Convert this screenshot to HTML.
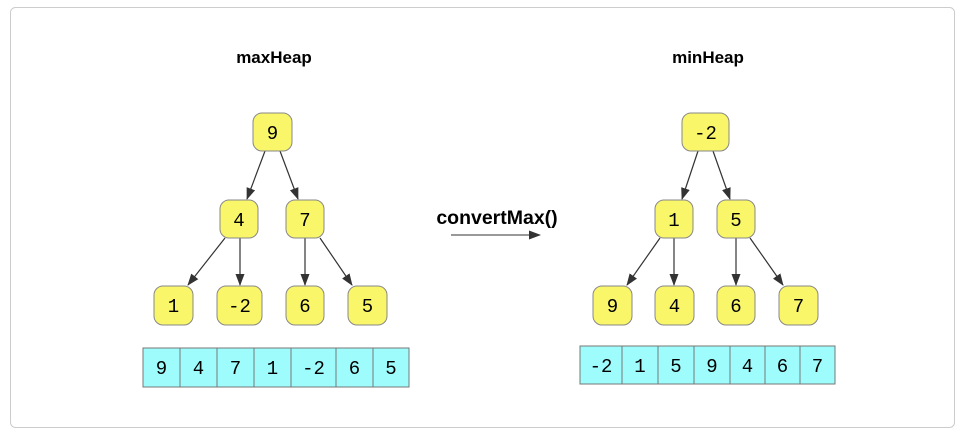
<!DOCTYPE html>
<html><head><style>body{margin:0;background:#fff}svg{display:block}</style></head><body>
<svg width="965" height="433" xmlns="http://www.w3.org/2000/svg">
<defs><marker id="a" markerWidth="12" markerHeight="12" refX="11" refY="6" orient="auto" markerUnits="userSpaceOnUse"><path d="M0,1.5 L12,6 L0,10.5 Z" fill="#333"/></marker></defs>
<rect x="10.5" y="7.5" width="944" height="420" rx="5" fill="#fff" stroke="#ccc"/>
<g font-family="Liberation Sans, sans-serif" font-weight="bold" font-size="17" text-anchor="middle" fill="#000">
<text x="274" y="63">maxHeap</text><text x="708" y="63">minHeap</text>
<text x="497" y="224" font-size="19.5">convertMax()</text></g>
<line x1="451" y1="235" x2="540" y2="235" stroke="#333" marker-end="url(#a)"/>
<g stroke="#333" stroke-width="1.2" marker-end="url(#a)">
<line x1="265" y1="151" x2="247" y2="199"/><line x1="280" y1="151" x2="298" y2="199"/>
<line x1="225" y1="238" x2="188" y2="285"/><line x1="240" y1="238" x2="240" y2="285"/>
<line x1="305" y1="238" x2="305" y2="285"/><line x1="320" y1="238" x2="352" y2="285"/>
<line x1="698" y1="151" x2="682" y2="199"/><line x1="713" y1="151" x2="730" y2="199"/>
<line x1="660" y1="238" x2="627" y2="285"/><line x1="674" y1="238" x2="674" y2="285"/>
<line x1="736" y1="238" x2="736" y2="285"/><line x1="750" y1="238" x2="783" y2="285"/>
</g>
<g fill="#f9f66a" stroke="#888" stroke-width="1">
<rect x="253" y="113" width="39" height="38" rx="9"/>
<rect x="220" y="200" width="38" height="38" rx="9"/><rect x="286" y="200" width="38" height="38" rx="9"/>
<rect x="154" y="286" width="39" height="39" rx="9"/><rect x="217" y="286" width="45" height="39" rx="9"/>
<rect x="286" y="286" width="38" height="39" rx="9"/><rect x="348" y="286" width="39" height="39" rx="9"/>
<rect x="682" y="113" width="47" height="38" rx="9"/>
<rect x="655" y="200" width="38" height="38" rx="9"/><rect x="717" y="200" width="38" height="38" rx="9"/>
<rect x="593" y="286" width="39" height="39" rx="9"/><rect x="655" y="286" width="39" height="39" rx="9"/>
<rect x="717" y="286" width="38" height="39" rx="9"/><rect x="779" y="286" width="39" height="39" rx="9"/>
</g>
<g fill="#9ffcfc" stroke="#777" stroke-width="1">
<rect x="143" y="348" width="37" height="39"/><rect x="180" y="348" width="37" height="39"/><rect x="217" y="348" width="37" height="39"/><rect x="254" y="348" width="37" height="39"/><rect x="291" y="348" width="45" height="39"/><rect x="336" y="348" width="37" height="39"/><rect x="373" y="348" width="36" height="39"/>
<rect x="580" y="346" width="42" height="38"/><rect x="622" y="346" width="36" height="38"/><rect x="658" y="346" width="36" height="38"/><rect x="694" y="346" width="36" height="38"/><rect x="730" y="346" width="35" height="38"/><rect x="765" y="346" width="35" height="38"/><rect x="800" y="346" width="35" height="38"/>
</g>
<g font-family="Liberation Mono, monospace" font-size="19" text-anchor="middle" fill="#000">
<text x="272.5" y="139">9</text><text x="239" y="226">4</text><text x="305" y="226">7</text>
<text x="173.5" y="312">1</text><text x="239.5" y="312">-2</text><text x="305" y="312">6</text><text x="367.5" y="312">5</text>
<text x="705.5" y="139">-2</text><text x="674" y="226">1</text><text x="736" y="226">5</text>
<text x="612.5" y="312">9</text><text x="674.5" y="312">4</text><text x="736" y="312">6</text><text x="798.5" y="312">7</text>
<text x="161.5" y="374">9</text><text x="198.5" y="374">4</text><text x="235.5" y="374">7</text><text x="272.5" y="374">1</text><text x="313.5" y="374">-2</text><text x="354.5" y="374">6</text><text x="391" y="374">5</text>
<text x="601" y="372">-2</text><text x="640" y="372">1</text><text x="676" y="372">5</text><text x="712" y="372">9</text><text x="747.5" y="372">4</text><text x="782.5" y="372">6</text><text x="817.5" y="372">7</text>
</g>
</svg>
</body></html>
